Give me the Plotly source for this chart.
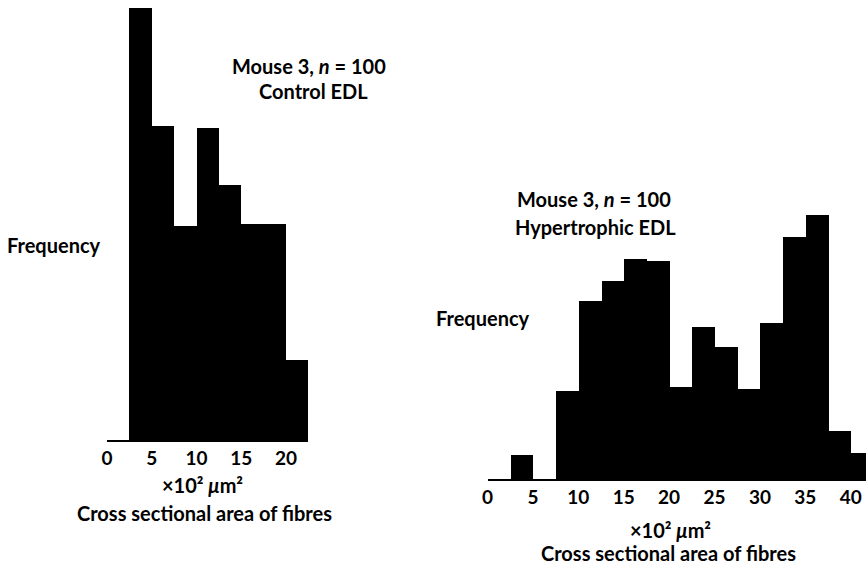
import plotly.graph_objects as go

# ---- data ----
bin_width = 2.5
control_bin_starts = [2.5, 5, 7.5, 10, 12.5, 15, 17.5, 20]
control_freq = [21.2, 15.4, 10.5, 15.3, 12.5, 10.6, 10.6, 3.9]

hyper_bin_starts = [0, 2.5, 5, 7.5, 10, 12.5, 15, 17.5, 20, 22.5, 25, 27.5, 30, 32.5, 35, 37.5, 40]
hyper_freq = [0, 1.1, 0, 4.0, 8.1, 9.0, 10.0, 9.9, 4.2, 6.9, 6.0, 4.1, 7.1, 11.0, 12.0, 2.2, 1.2]

control_ticks = [0, 5, 10, 15, 20]
hyper_ticks = [0, 5, 10, 15, 20, 25, 30, 35, 40]

W, H = 866, 569
FONT = "Lato"

fig = go.Figure()
fig.add_trace(go.Bar(
    x=[s + bin_width / 2 for s in control_bin_starts], y=control_freq, width=bin_width,
    marker=dict(color="black", line=dict(width=0)), xaxis="x", yaxis="y", showlegend=False))
fig.add_trace(go.Bar(
    x=[s + bin_width / 2 for s in hyper_bin_starts], y=hyper_freq, width=bin_width,
    marker=dict(color="black", line=dict(width=0)), xaxis="x2", yaxis="y2", showlegend=False))

def px_x(p):
    return p / W

def px_y(p):  # p = px from top
    return 1 - p / H

tickfont = dict(family=FONT, size=19, color="black", weight=700)
axis_common = dict(showgrid=False, zeroline=False, ticks="", showline=True, automargin=False,
                   linecolor="black", linewidth=1.5, tickfont=tickfont, fixedrange=True)

fig.update_layout(
    width=W, height=H, margin=dict(l=0, r=0, t=0, b=0, pad=0),
    paper_bgcolor="white", plot_bgcolor="white", bargap=0,
    xaxis=dict(domain=[px_x(107), px_x(308.4)], range=[0, 22.5], anchor="y",
               tickvals=control_ticks, ticktext=[str(t) for t in control_ticks], **axis_common),
    yaxis=dict(domain=[px_y(440), 1], range=[0, 440 / 20.4], visible=False, anchor="x",
               automargin=False),
    xaxis2=dict(domain=[px_x(487.5), 1], range=[0, (866 - 487.5) / 9.08], anchor="y2",
                tickvals=hyper_ticks, ticktext=[str(t) for t in hyper_ticks], **axis_common),
    yaxis2=dict(domain=[px_y(479), 1], range=[0, 479 / 22.0], visible=False, anchor="x2",
                automargin=False),
    font=dict(family=FONT, color="black"),
)

def ann(text, x, y, size=20):
    fig.add_annotation(text=text, x=px_x(x), y=px_y(y), xref="paper", yref="paper",
                       showarrow=False, xanchor="center", yanchor="middle",
                       font=dict(family=FONT, size=size, color="black", weight=700))

ann("Mouse 3, <i>n</i> = 100", 309, 66)
ann("Control EDL", 313, 91)
ann("Frequency", 54, 245)
ann("×10² <i>μ</i>m²", 202, 485)
ann("Cross sectional area of fibres", 204, 513)

ann("Mouse 3, <i>n</i> = 100", 594, 199)
ann("Hypertrophic EDL", 595, 227)
ann("Frequency", 483, 318)
ann("×10² <i>μ</i>m²", 670, 530)
ann("Cross sectional area of fibres", 668, 553)

fig.write_html("out.html", config={"displayModeBar": False},
               post_script="document.body.style.margin='0';document.body.style.overflow='hidden';")
